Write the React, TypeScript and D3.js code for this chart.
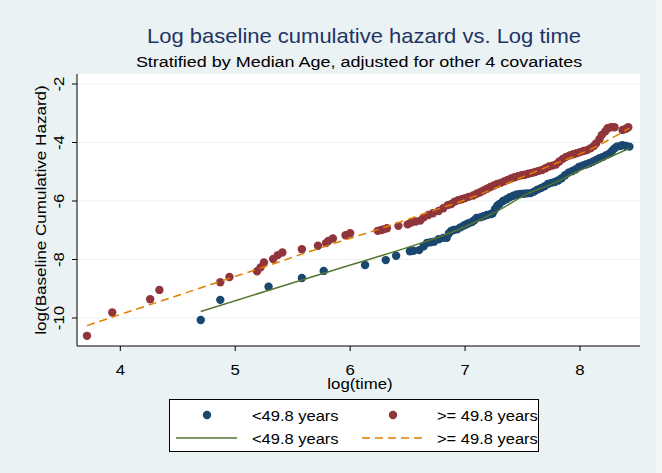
import * as d3 from 'd3'

// values (log(time), log cumulative hazard)
const youngLogTime = [
  4.70, 4.87, 5.29, 5.58, 5.77, 6.13, 6.31, 6.40, 6.52, 6.55, 6.60, 6.64, 6.67, 6.70, 6.73,
  6.77, 6.81, 6.84, 6.86, 6.88, 6.90, 6.93, 6.96, 6.99, 7.01, 7.03, 7.06, 7.08, 7.10, 7.13,
  7.16, 7.19, 7.22, 7.24, 7.26, 7.28, 7.30, 7.33, 7.36, 7.39, 7.42, 7.45, 7.48, 7.51, 7.54,
  7.57, 7.60, 7.63, 7.66, 7.69, 7.72, 7.75, 7.78, 7.81, 7.84, 7.87, 7.90, 7.93, 7.96, 7.99,
  8.02, 8.05, 8.08, 8.11, 8.14, 8.17, 8.20, 8.23, 8.26, 8.28, 8.30, 8.32, 8.35, 8.37, 8.40, 8.43,
]
const youngLogHaz = [
  -10.07, -9.38, -8.93, -8.63, -8.39, -8.19, -8.02, -7.87, -7.72, -7.70, -7.68, -7.55, -7.43, -7.41, -7.39,
  -7.31, -7.26, -7.26, -7.10, -7.02, -6.99, -6.97, -6.90, -6.84, -6.80, -6.76, -6.72, -6.66, -6.58, -6.56,
  -6.52, -6.48, -6.45, -6.42, -6.28, -6.16, -6.10, -6.00, -5.94, -5.87, -5.82, -5.78, -5.76, -5.75, -5.74,
  -5.73, -5.68, -5.61, -5.56, -5.50, -5.42, -5.38, -5.35, -5.30, -5.22, -5.12, -5.03, -4.98, -4.92, -4.84,
  -4.79, -4.75, -4.71, -4.66, -4.60, -4.54, -4.49, -4.43, -4.37, -4.28, -4.20, -4.14, -4.12, -4.09, -4.12, -4.14,
]
const oldLogTime = [
  3.71, 3.93, 4.26, 4.34, 4.87, 4.95, 5.19, 5.22, 5.25, 5.33, 5.37, 5.41, 5.58, 5.72, 5.79,
  5.81, 5.85, 5.96, 6.00, 6.24, 6.27, 6.29, 6.32, 6.42, 6.50, 6.53, 6.57, 6.61, 6.64, 6.68,
  6.72, 6.77, 6.81, 6.85, 6.88, 6.91, 6.94, 6.97, 7.00, 7.03, 7.07, 7.10, 7.13, 7.16, 7.19,
  7.22, 7.25, 7.28, 7.31, 7.34, 7.37, 7.40, 7.43, 7.46, 7.49, 7.52, 7.55, 7.58, 7.61, 7.64,
  7.67, 7.70, 7.73, 7.76, 7.79, 7.82, 7.85, 7.88, 7.91, 7.94, 7.97, 8.00, 8.03, 8.06, 8.09,
  8.12, 8.14, 8.17, 8.19, 8.22, 8.24, 8.27, 8.30, 8.37, 8.40, 8.42,
]
const oldLogHaz = [
  -10.61, -9.81, -9.36, -9.04, -8.78, -8.60, -8.40, -8.27, -8.10, -7.98, -7.85, -7.76, -7.65, -7.53, -7.44,
  -7.37, -7.28, -7.17, -7.10, -7.02, -6.99, -6.97, -6.93, -6.85, -6.80, -6.74, -6.70, -6.67, -6.56, -6.48,
  -6.42, -6.34, -6.25, -6.14, -6.10, -6.02, -5.97, -5.94, -5.90, -5.86, -5.81, -5.75, -5.70, -5.64, -5.58,
  -5.52, -5.47, -5.42, -5.38, -5.33, -5.28, -5.23, -5.19, -5.15, -5.12, -5.10, -5.07, -5.04, -5.01, -4.97,
  -4.94, -4.88, -4.82, -4.79, -4.75, -4.65, -4.56, -4.49, -4.44, -4.40, -4.37, -4.33, -4.29, -4.26, -4.20,
  -4.12, -4.03, -3.88, -3.74, -3.62, -3.51, -3.48, -3.48, -3.57, -3.53, -3.48,
]

// fitted curves
const youngFitX = [4.70, 5.30, 5.91, 6.17, 6.61, 6.78, 7.00, 7.26, 7.56, 7.74, 8.00, 8.20, 8.43]
const youngFitY = [-9.78, -9.04, -8.30, -7.99, -7.45, -7.22, -6.88, -6.39, -5.72, -5.45, -4.95, -4.60, -4.20]
const oldFitX = [3.71, 4.50, 5.20, 5.90, 6.30, 6.70, 7.00, 7.30, 7.56, 7.80, 8.00, 8.14, 8.30, 8.43]
const oldFitY = [-10.26, -9.23, -8.32, -7.40, -6.90, -6.36, -5.96, -5.50, -5.08, -4.70, -4.39, -4.14, -3.80, -3.51]

const xTicks = [4, 5, 6, 7, 8]
const yTicks = [-2, -4, -6, -8, -10]
const legendLabels = ['<49.8 years', '>= 49.8 years']

const width = 662, height = 473
const left = 77, right = 640, top = 74, bottom = 346
const navy = '#1a476f', maroon = '#90353b', green = '#55752f', orange = '#e37e00'
const bg = '#eaf2f3'
const font = 'Arial, "Liberation Sans", sans-serif'
const dotR = 4.2

const x = d3.scaleLinear().domain([4, 8]).range([120.3, 580])
const y = d3.scaleLinear().domain([-2, -10]).range([84, 318])

const fitLine = d3.line<[number, number]>()
  .x(d => x(d[0]))
  .y(d => y(d[1]))
  .curve(d3.curveMonotoneX)

// text stretched along its run, the reference glyphs are wider than plain Arial
const T = ({ x, y, rot = 0, sx = 1, size = 14, anchor = 'start', fill = '#000', children }: any) => (
  <text
    transform={`translate(${x},${y}) rotate(${rot}) scale(${sx},1)`}
    textAnchor={anchor}
    fontSize={size}
    fill={fill}
  >
    {children}
  </text>
)

export default function App() {
  const young = youngLogTime.map((t, i) => [t, youngLogHaz[i]])
  const old = oldLogTime.map((t, i) => [t, oldLogHaz[i]])
  const youngFit = youngFitX.map((t, i) => [t, youngFitY[i]] as [number, number])
  const oldFit = oldFitX.map((t, i) => [t, oldFitY[i]] as [number, number])

  return (
    <svg width={width} height={height} style={{ position: 'absolute', left: 0, top: 0 }} fontFamily={font}>
      <rect width={width} height={height} fill={bg} />
      <rect x={656} width={6} height={height} fill="#f3f7f8" />

      <T x={364} y={43} size={20} sx={1.1} anchor="middle" fill="#1e3465">
        Log baseline cumulative hazard vs. Log time
      </T>
      <T x={359} y={67} size={15.5} sx={1.16} anchor="middle">
        Stratified by Median Age, adjusted for other 4 covariates
      </T>

      <rect x={left} y={top} width={right - left} height={bottom - top} fill="#fff" />
      {yTicks.map(v => (
        <line key={v} x1={left} x2={right} y1={y(v)} y2={y(v)} stroke={bg} strokeWidth={1.2} />
      ))}

      {old.map((d, i) => (
        <circle key={'o' + i} cx={x(d[0])} cy={y(d[1])} r={dotR} fill={maroon} />
      ))}
      {young.map((d, i) => (
        <circle key={'y' + i} cx={x(d[0])} cy={y(d[1])} r={dotR} fill={navy} />
      ))}
      <path d={fitLine(youngFit) ?? ''} fill="none" stroke={green} strokeWidth={1.5} />
      <path d={fitLine(oldFit) ?? ''} fill="none" stroke={orange} strokeWidth={1.5} strokeDasharray="8,5" />

      {/* axes */}
      <line x1={left} x2={left} y1={top} y2={bottom} stroke="#000" />
      <line x1={left} x2={right} y1={bottom} y2={bottom} stroke="#000" />
      {yTicks.map(v => (
        <g key={v}>
          <line x1={left - 5} x2={left} y1={y(v)} y2={y(v)} stroke="#000" />
          <T x={64} y={y(v)} rot={-90} sx={1.2} anchor="middle">{v}</T>
        </g>
      ))}
      {xTicks.map(v => (
        <g key={v}>
          <line x1={x(v)} x2={x(v)} y1={bottom} y2={bottom + 5} stroke="#000" />
          <T x={x(v)} y={375} sx={1.2} anchor="middle">{v}</T>
        </g>
      ))}
      <T x={360} y={389} sx={1.2} anchor="middle">log(time)</T>
      <T x={46} y={(top + bottom) / 2} rot={-90} sx={1.22} anchor="middle">
        log(Baseline Cumulative Hazard)
      </T>

      {/* legend */}
      <rect x={169.5} y={399.5} width={369} height={52} fill="#fff" stroke="#000" />
      <circle cx={207} cy={415} r={dotR} fill={navy} />
      <T x={252} y={420.5} size={15} sx={1.1}>{legendLabels[0]}</T>
      <circle cx={393} cy={415} r={dotR} fill={maroon} />
      <T x={437} y={420.5} size={15} sx={1.1}>{legendLabels[1]}</T>
      <line x1={176} x2={237} y1={438} y2={438} stroke={green} strokeWidth={1.5} />
      <T x={252} y={443.5} size={15} sx={1.1}>{legendLabels[0]}</T>
      <line x1={362} x2={424} y1={438} y2={438} stroke={orange} strokeWidth={1.5} strokeDasharray="8,5" />
      <T x={437} y={443.5} size={15} sx={1.1}>{legendLabels[1]}</T>
    </svg>
  )
}
